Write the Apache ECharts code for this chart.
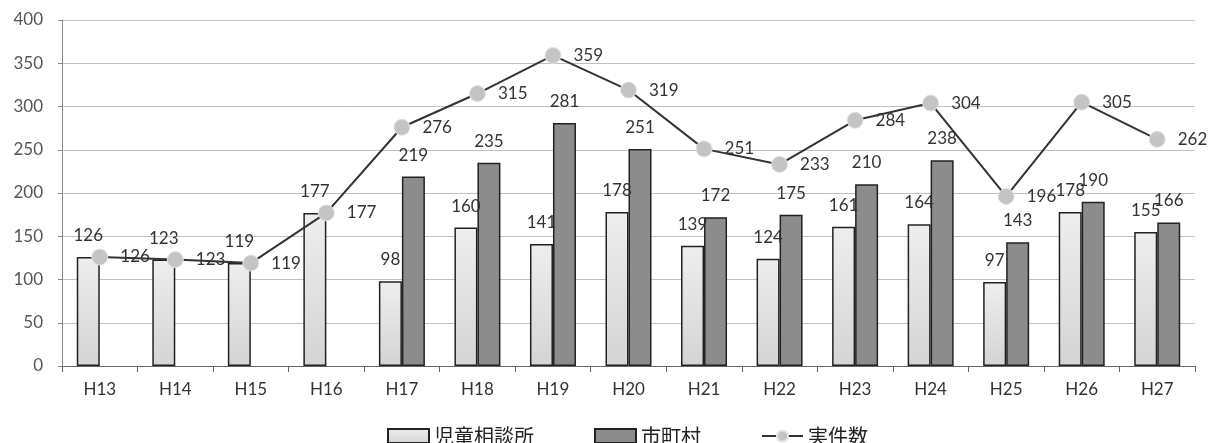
<!DOCTYPE html>
<html>
<head>
<meta charset="utf-8">
<script src="https://cdn.jsdelivr.net/npm/echarts@6/dist/echarts.min.js"></script>
<style>html,body{margin:0;padding:0;background:#fff}#c{width:1211px;height:443px}</style>
</head>
<body>
<div id="c"></div>
<script>
const categories = ['H13','H14','H15','H16','H17','H18','H19','H20','H21','H22','H23','H24','H25','H26','H27'];
const jidou = [126,123,119,177,98,160,141,178,139,124,161,164,97,178,155];
const shichoson = [null,null,null,null,219,235,281,251,172,175,210,238,143,190,166];
const jitsu = [126,123,119,177,276,315,359,319,251,233,284,304,196,305,262];
const yTicks = {min:0, max:400, interval:50};

const font = 'Lato, "Noto Sans CJK JP", sans-serif';
const chart = echarts.init(document.getElementById('c'));
chart.setOption({
  animation:false,
  backgroundColor:'#fff',
  grid:{left:62,right:16,top:20,bottom:77},
  legend:{
    top:421,left:382,itemGap:60,itemWidth:41,itemHeight:14,
    textStyle:{fontFamily:'"Noto Sans CJK JP", sans-serif',fontSize:20,color:'#222'},
    data:[{name:'児童相談所',icon:'rect'},{name:'市町村',icon:'rect'},{name:'実件数'}]
  },
  xAxis:{
    type:'category',data:categories,
    axisLine:{lineStyle:{color:'#666',width:1}},
    axisTick:{show:true,length:6,inside:false,lineStyle:{color:'#666'}},
    axisLabel:{fontFamily:font,fontSize:17,color:'#333',margin:15}
  },
  yAxis:{
    type:'value',min:yTicks.min,max:yTicks.max,interval:yTicks.interval,
    axisLine:{show:true,lineStyle:{color:'#888'}},
    axisTick:{show:true,length:4,lineStyle:{color:'#888'}},
    axisLabel:{fontFamily:font,fontSize:17,color:'#555',margin:19},
    splitLine:{lineStyle:{color:'#c0c0c0',width:1}}
  },
  series:[
    {
      name:'児童相談所',type:'bar',data:jidou,barWidth:23,barGap:'0%',
      itemStyle:{color:new echarts.graphic.LinearGradient(0,0,0,1,[{offset:0,color:'#eeeeee'},{offset:1,color:'#d4d4d4'}]),borderColor:'#222',borderWidth:1.5},
      label:{show:true,position:'top',distance:13,fontFamily:font,fontSize:17,color:'#333'}
    },
    {
      name:'市町村',type:'bar',data:shichoson,barWidth:23,barGap:'0%',
      itemStyle:{color:'#8c8c8c',borderColor:'#222',borderWidth:1.5},
      label:{show:true,position:'top',distance:13,fontFamily:font,fontSize:17,color:'#333'}
    },
    {
      name:'実件数',type:'line',data:jitsu,symbol:'circle',symbolSize:16,
      lineStyle:{color:'#333',width:2},
      itemStyle:{color:'#c4c4c4',borderColor:'#e4e4e4',borderWidth:1},
      label:{show:true,position:'right',distance:12,fontFamily:font,fontSize:17,color:'#333'},
      z:5
    }
  ]
});
</script>
</body>
</html>
